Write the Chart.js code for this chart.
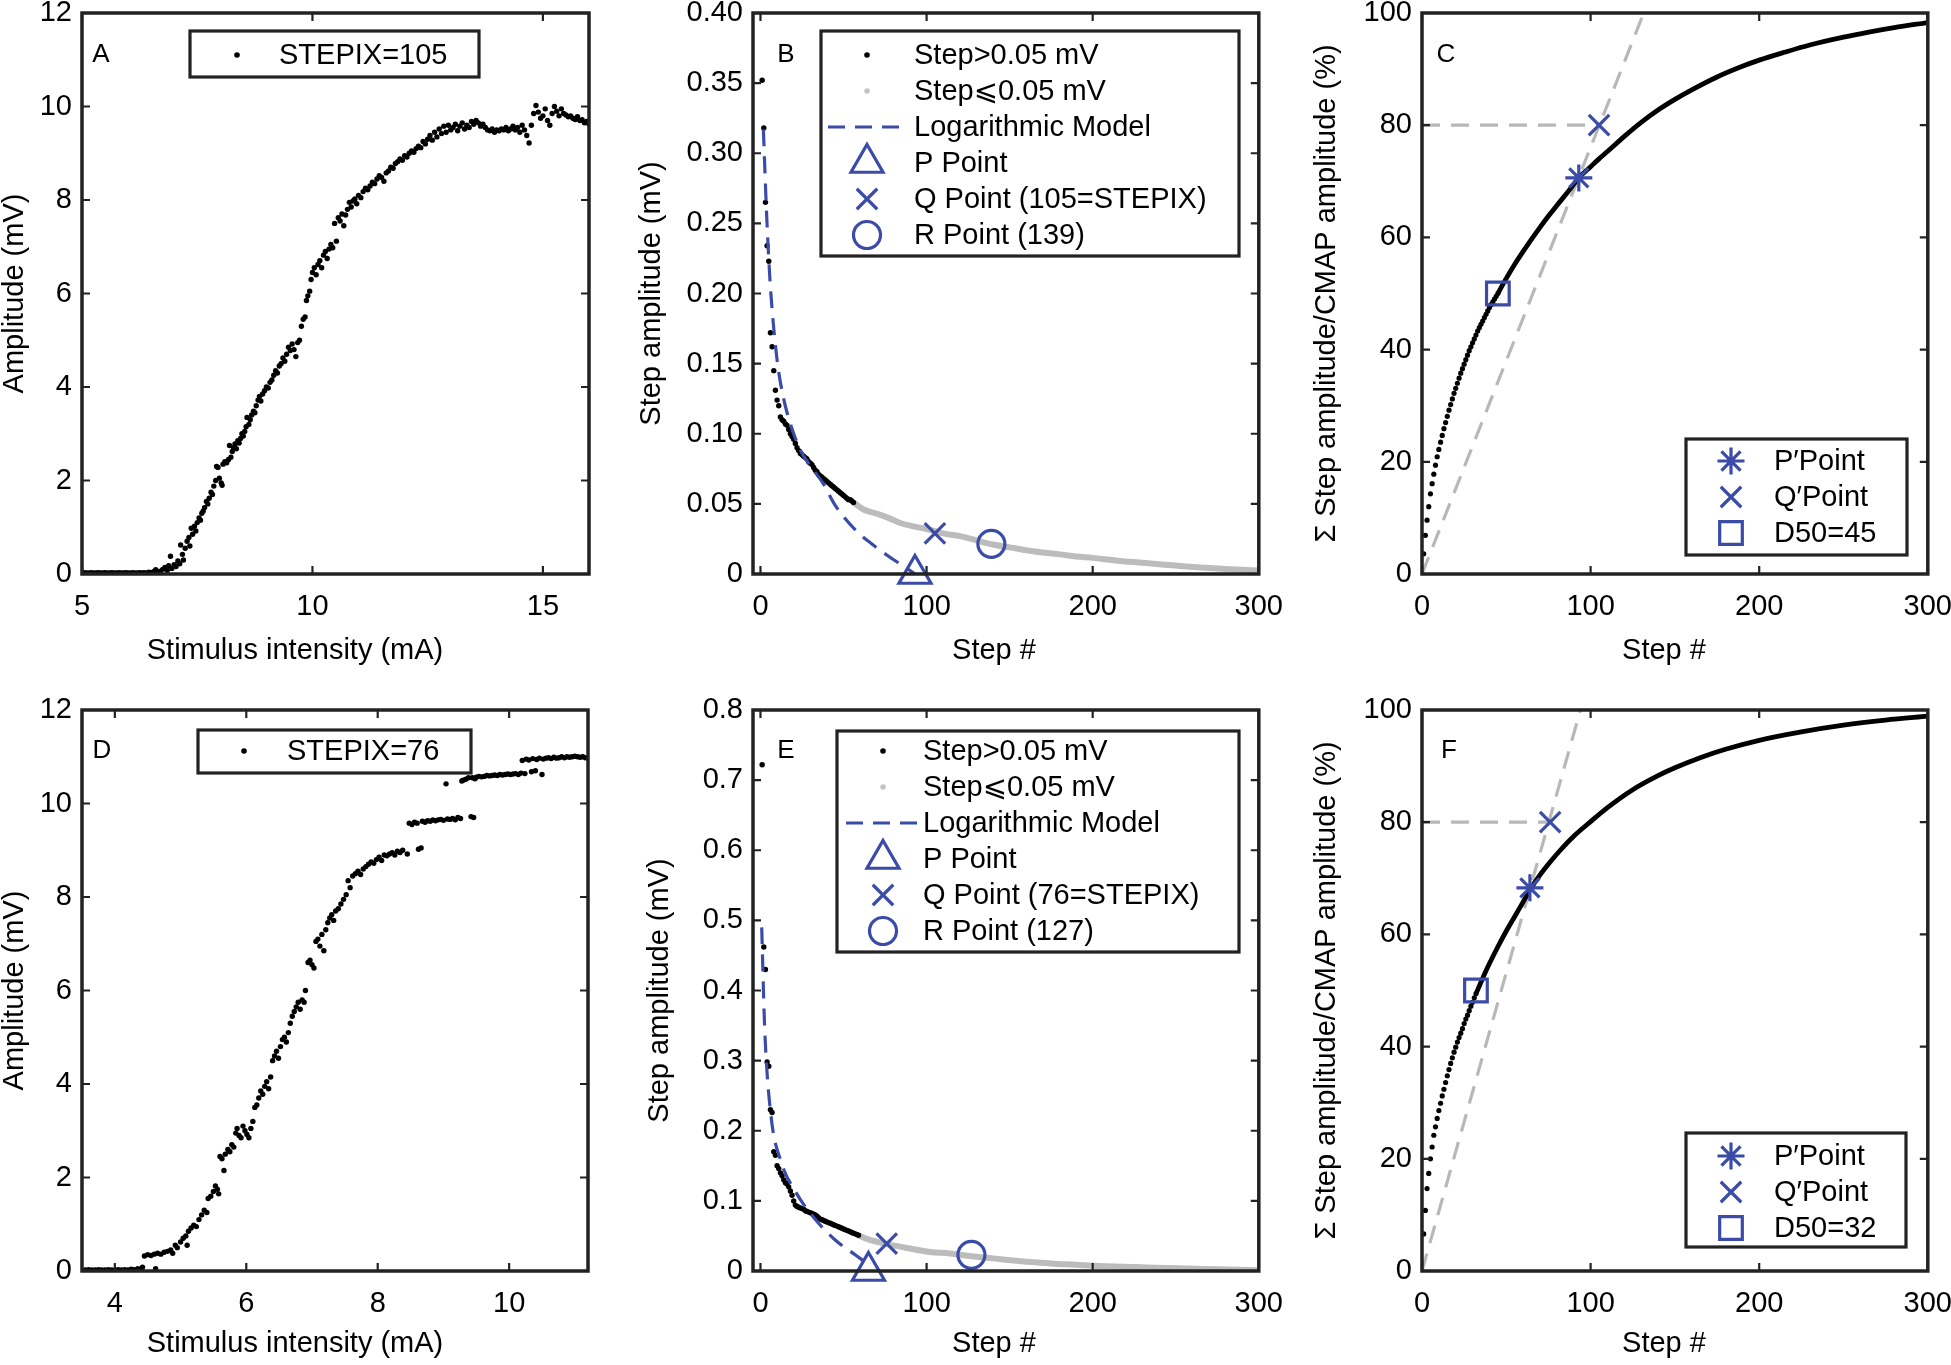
<!DOCTYPE html>
<html><head><meta charset="utf-8">
<script src="https://cdn.jsdelivr.net/npm/chart.js@4.4.1/dist/chart.umd.min.js"></script>
<style>
html,body{margin:0;padding:0;background:#fff;width:1951px;height:1365px;overflow:hidden;position:relative}
canvas{position:absolute}
</style></head><body>
<script>
// ---------------- DATA ----------------
// Panel A: stimulus intensity (mA) vs amplitude (mV)
const A_points = [[5.00,0.02],[5.05,0.03],[5.10,0.02],[5.15,0.02],[5.20,0.03],[5.25,0.02],[5.30,0.02],[5.35,0.03],[5.40,0.02],[5.45,0.02],[5.50,0.03],[5.55,0.02],[5.60,0.02],[5.65,0.03],[5.70,0.02],[5.75,0.02],[5.80,0.03],[5.85,0.02],[5.90,0.02],[5.95,0.03],[6.00,0.02],[6.05,0.02],[6.10,0.03],[6.15,0.02],[6.20,0.02],[6.25,0.03],[6.30,0.02],[6.35,0.03],[6.40,0.02],[6.45,0.04],[6.50,0.03],
[6.55,0.05],[6.60,0.09],[6.65,0.03],[6.70,0.06],[6.75,0.10],[6.80,0.14],[6.85,0.08],[6.88,0.18],[6.92,0.38],[6.95,0.12],[7.00,0.20],[7.04,0.16],[7.08,0.28],[7.12,0.22],[7.14,0.62],[7.18,0.42],[7.20,0.30],[7.24,0.55],[7.28,0.70],[7.32,0.78],[7.34,0.60],[7.37,0.98],[7.40,0.85],[7.44,1.02],[7.47,0.92],[7.50,1.10],[7.54,1.20],[7.57,1.15],[7.60,1.30],[7.63,1.35],[7.66,1.42],[7.70,1.55],[7.73,1.50],[7.76,1.62],[7.80,1.75],[7.83,1.70],[7.86,1.88],[7.90,2.00],[7.92,2.30],[7.95,2.28],[7.98,2.05],[8.02,1.95],[8.04,1.90],[8.06,2.35],[8.10,2.40],[8.14,2.38],[8.18,2.45],[8.20,2.75],[8.23,2.50],[8.26,2.62],[8.29,2.70],[8.32,2.78],[8.35,2.68],[8.38,2.85],[8.41,2.80],[8.44,2.90],[8.47,3.00],[8.50,2.95],[8.53,3.05],[8.56,3.15],[8.58,3.35],[8.62,3.20],[8.65,3.30],[8.68,3.40],[8.72,3.48],[8.75,3.45],[8.78,3.60],[8.82,3.72],[8.85,3.80],[8.88,3.70],[8.92,3.85],[8.96,3.92],[9.00,4.00],[9.04,3.98],[9.08,4.10],[9.12,4.15],[9.16,4.25],[9.20,4.35],[9.24,4.30],[9.28,4.45],[9.32,4.50],[9.36,4.62],[9.40,4.55],[9.44,4.70],[9.48,4.85],[9.52,4.78],[9.56,4.92],[9.60,4.80],[9.64,4.65],[9.68,4.95],[9.72,5.00],[9.76,5.30],[9.80,5.45],[9.84,5.50],[9.87,5.85],[9.90,5.95],[9.94,6.05],[9.97,6.30],[10.00,6.45],[10.04,6.55],[10.08,6.40],[10.12,6.62],[10.16,6.70],[10.20,6.55],[10.24,6.82],[10.28,6.90],[10.32,6.75],[10.36,6.95],[10.40,7.05],[10.44,6.98],[10.48,7.50],[10.52,7.12],[10.56,7.62],[10.60,7.55],[10.64,7.70],[10.68,7.45],[10.72,7.68],[10.76,7.80],[10.80,7.95],[10.84,7.85],[10.88,7.98],[10.92,8.02],[10.96,7.92],[11.00,8.10],[11.05,8.05],[11.10,8.18],[11.15,8.25],[11.20,8.22],[11.25,8.30],[11.30,8.38],[11.35,8.35],[11.40,8.45],[11.45,8.52],[11.50,8.48],[11.55,8.40],[11.60,8.58],[11.65,8.62],[11.70,8.70],[11.75,8.68],[11.80,8.78],[11.85,8.82],[11.90,8.88],[11.95,8.85],[12.00,8.95],[12.05,8.92],[12.10,9.00],[12.15,9.05],[12.20,9.02],[12.25,9.10],[12.30,9.15],[12.35,9.12],[12.40,9.25],[12.45,9.20],[12.50,9.30],[12.55,9.38],[12.60,9.28],[12.65,9.45],[12.70,9.35],[12.75,9.52],[12.80,9.42],[12.85,9.58],[12.90,9.45],[12.95,9.60],[13.00,9.50],[13.05,9.55],[13.10,9.62],[13.15,9.48],[13.20,9.58],[13.25,9.65],[13.30,9.52],[13.35,9.60],[13.40,9.55],[13.45,9.68],[13.50,9.62],[13.55,9.70],[13.60,9.65],[13.65,9.58],[13.70,9.62],[13.75,9.55],[13.80,9.50],[13.85,9.48],[13.90,9.52],[13.95,9.45],[14.00,9.50],[14.05,9.48],[14.10,9.52],[14.15,9.50],[14.20,9.55],[14.25,9.48],[14.30,9.52],[14.35,9.58],[14.40,9.50],[14.45,9.55],[14.50,9.45],[14.55,9.60],[14.60,9.50],[14.65,9.38],[14.70,9.22],[14.75,9.60],[14.80,9.85],[14.85,10.02],[14.90,9.88],[14.95,9.75],[15.00,9.80],[15.05,9.95],[15.10,9.70],[15.15,9.60],[15.20,9.85],[15.25,10.00],[15.30,9.90],[15.35,9.80],[15.40,9.95],[15.45,9.85],[15.50,9.82],[15.55,9.78],[15.60,9.80],[15.65,9.75],[15.70,9.72],[15.75,9.78],[15.80,9.70],[15.85,9.72],[15.90,9.65],[15.95,9.68],[16.00,9.62]];

// Panel D
const D_points = [[3.50,0.02],[3.55,0.02],[3.60,0.03],[3.65,0.02],[3.70,0.02],[3.75,0.03],[3.80,0.02],[3.85,0.02],[3.90,0.03],[3.95,0.02],[4.00,0.02],[4.05,0.03],[4.10,0.02],[4.15,0.03],[4.20,0.02],[4.25,0.04],[4.30,0.03],[4.35,0.05],[4.40,0.04],[4.42,0.08],
[4.45,0.32],[4.50,0.35],[4.55,0.33],[4.60,0.36],[4.62,0.05],[4.65,0.38],[4.70,0.36],[4.75,0.40],[4.80,0.42],[4.85,0.45],[4.88,0.38],[4.92,0.55],[4.95,0.50],[5.00,0.62],[5.04,0.70],[5.08,0.75],[5.10,0.55],[5.12,0.85],[5.16,0.92],[5.20,0.98],[5.24,0.95],[5.28,1.10],[5.32,1.20],[5.36,1.30],[5.40,1.25],[5.42,1.55],[5.46,1.60],[5.50,1.70],[5.53,1.82],[5.56,1.75],[5.58,1.65],[5.60,2.45],[5.63,2.40],[5.66,2.15],[5.68,2.50],[5.72,2.60],[5.75,2.55],[5.78,2.70],[5.81,2.65],[5.84,2.95],[5.86,3.05],[5.89,2.90],[5.92,2.85],[5.95,3.10],[5.98,3.00],[6.01,2.92],[6.04,2.85],[6.07,3.05],[6.10,3.20],[6.13,3.50],[6.16,3.55],[6.19,3.70],[6.22,3.85],[6.25,3.78],[6.28,3.95],[6.31,4.05],[6.34,3.90],[6.37,4.15],[6.40,4.50],[6.43,4.60],[6.46,4.70],[6.49,4.55],[6.52,4.80],[6.55,4.95],[6.58,5.00],[6.61,4.90],[6.64,5.10],[6.67,5.30],[6.70,5.45],[6.73,5.55],[6.76,5.65],[6.79,5.75],[6.82,5.60],[6.85,5.80],[6.88,5.75],[6.90,6.00],[6.94,6.60],[6.97,6.65],[7.00,6.55],[7.03,6.48],[7.06,7.05],[7.09,7.10],[7.12,6.95],[7.15,7.20],[7.18,6.85],[7.21,7.30],[7.24,7.45],[7.27,7.55],[7.30,7.62],[7.33,7.50],[7.36,7.70],[7.40,7.75],[7.44,7.85],[7.48,7.95],[7.52,8.05],[7.55,8.35],[7.58,8.20],[7.62,8.45],[7.66,8.50],[7.70,8.55],[7.74,8.48],[7.78,8.60],[7.82,8.65],[7.86,8.70],[7.90,8.75],[7.94,8.72],[7.98,8.80],[8.02,8.85],[8.06,8.78],[8.10,8.90],[8.14,8.88],[8.18,8.92],[8.22,8.95],[8.26,8.90],[8.30,8.98],[8.34,8.95],[8.38,9.00],[8.45,8.92],[8.48,9.58],[8.52,9.55],[8.56,9.60],[8.60,9.58],[8.62,9.02],[8.66,9.05],[8.68,9.62],[8.72,9.60],[8.76,9.63],[8.80,9.62],[8.84,9.65],[8.88,9.63],[8.92,9.65],[8.96,9.66],[9.00,9.64],[9.04,10.42],[9.06,9.67],[9.10,9.66],[9.14,9.68],[9.18,9.65],[9.22,9.70],[9.26,9.68],[9.28,10.48],[9.30,10.50],[9.34,10.52],[9.38,10.55],[9.42,9.72],[9.46,9.70],[9.44,10.55],[9.48,10.53],[9.50,10.56],[9.54,10.58],[9.58,10.57],[9.62,10.58],[9.66,10.60],[9.70,10.59],[9.74,10.60],[9.78,10.61],[9.82,10.60],[9.86,10.62],[9.90,10.61],[9.94,10.62],[9.98,10.63],[10.02,10.62],[10.06,10.63],[10.10,10.64],[10.14,10.62],[10.18,10.65],[10.20,10.92],[10.24,10.64],[10.26,10.95],[10.30,10.93],[10.34,10.68],[10.36,10.96],[10.40,10.70],[10.42,10.94],[10.46,10.97],[10.50,10.62],[10.52,10.95],[10.56,10.97],[10.60,10.98],[10.64,10.96],[10.68,10.99],[10.72,10.97],[10.76,10.98],[10.80,11.00],[10.84,10.98],[10.88,11.00],[10.92,10.99],[10.96,11.00],[11.00,11.01],[11.04,11.00],[11.08,10.99],[11.12,11.00],[11.16,10.98]];

// Panel B
const B_steps_hi = [1,2,3,4,5,6,7,8,9,10,11,12,13,14,15,16,17,18,19,20,21,22,23,24,25,26,27,28,29,30,31,32,33,34,35,36,37,38,39,40,41,42,43,44,45,46,47,48,49,50,51,52,53,54,55,56];
const B_amp_hi = [0.352,0.318,0.265,0.234,0.223,0.172,0.162,0.145,0.131,0.124,0.120,0.112,0.110,0.109,0.107,0.106,0.103,0.100,0.098,0.096,0.093,0.090,0.088,0.086,0.085,0.084,0.083,0.082,0.080,0.079,0.078,0.076,0.074,0.073,0.071,0.070,0.069,0.068,0.067,0.066,0.065,0.064,0.063,0.062,0.061,0.060,0.059,0.058,0.057,0.056,0.055,0.054,0.053,0.053,0.052,0.051];
const B_steps_lo = [56,62,70,77,85,92,100,110,120,130,140,150,165,180,190,200,215,230,240,250,265,280,290,300];
const B_amp_lo = [0.051,0.046,0.043,0.040,0.036,0.034,0.032,0.029,0.027,0.024,0.021,0.019,0.016,0.014,0.0125,0.0115,0.0095,0.008,0.007,0.006,0.0046,0.0035,0.003,0.0025];
const B_model_x = [1.75,3.75,5.75,8,10.5,13.75,17.5,23.75,30,37.5,45,57.5,67.5,77.5,87.5,93];
const B_model_y = [0.317,0.255,0.209,0.175,0.148,0.126,0.109,0.089,0.077,0.065,0.049,0.031,0.021,0.0123,0.0046,0];
const B_P = [93, 0], B_Q = [105, 0.029], B_R = [139, 0.0215];

// Panel E
const E_steps_hi = [1,2,3,4,5,6,7,8,9,10,11,12,13,14,15,16,17,18,19,20,21,22,23,24,25,26,27,28,29,30,31,32,33,34,35,36,37,38,39,40,41,42,43,44,45,46,47,48,49,50,51,52,53,54,55,56,57,58,59];
const E_amp_hi = [0.722,0.462,0.430,0.298,0.292,0.230,0.226,0.170,0.165,0.150,0.146,0.140,0.136,0.130,0.126,0.124,0.120,0.114,0.108,0.100,0.094,0.092,0.091,0.090,0.089,0.088,0.086,0.085,0.084,0.083,0.082,0.081,0.080,0.078,0.076,0.074,0.073,0.072,0.071,0.070,0.069,0.068,0.067,0.066,0.065,0.064,0.063,0.062,0.061,0.060,0.059,0.058,0.057,0.056,0.055,0.054,0.053,0.052,0.051];
const E_steps_lo = [59,65,77,90,102,114,127,140,152,165,177,190,201,226,251,276,300];
const E_amp_lo = [0.051,0.045,0.038,0.032,0.027,0.025,0.021,0.018,0.015,0.0125,0.0105,0.009,0.0075,0.0056,0.0038,0.0025,0.0012];
const E_model_x = [0.75,2.5,6.2,12.4,21.1,32.3,44.8,57.2,66];
const E_model_y = [0.49,0.348,0.224,0.156,0.113,0.0755,0.0446,0.0229,0.0074];
const E_P = [65, 0], E_Q = [76, 0.039], E_R = [127, 0.023];

// Panel C (cumulative %)
const C_dot_steps = [1,2,3,4,5,6,7,8,9,10,11,12,13,14,15,16,17,18,19,20,21,22,23,24,25,26,27,28,29,30,31,32,33,34,35,36,37,38,39,40,41,42,43,44,45];
const C_dot_pct = [3.6,6.9,9.6,12.0,14.3,16.1,17.8,19.4,20.9,22.2,23.5,24.7,25.9,27.0,28.1,29.2,30.2,31.2,32.2,33.1,34.0,34.9,35.8,36.6,37.4,38.2,39.0,39.8,40.5,41.2,41.9,42.6,43.3,43.9,44.5,45.1,45.7,46.3,46.9,47.5,48.0,48.5,49.0,49.5,50.0];
const C_line_steps = [45,50,55,60,65,70,75,80,86,93,100,105,110,120,130,140,150,160,175,190,200,215,230,250,265,280,300];
const C_line_pct = [50.0,52.7,55.2,57.5,59.7,61.8,63.8,65.7,67.9,70.6,72.6,74.0,75.3,78.0,80.5,82.7,84.6,86.3,88.6,90.5,91.6,93.0,94.3,95.7,96.6,97.4,98.3];
const C_diag = [[0,0],[131.5,100]], C_hline = [[0,80],[105,80]];
const C_Pp = [93, 70.6], C_Qp = [105, 80], C_D50 = [45, 50];

// Panel F
const F_dot_steps = [1,2,3,4,5,6,7,8,9,10,11,12,13,14,15,16,17,18,19,20,21,22,23,24,25,26,27,28,29,30,31,32];
const F_dot_pct = [6.6,10.8,14.7,17.4,20.0,22.1,24.2,25.7,27.2,28.6,29.9,31.2,32.4,33.6,34.8,35.9,37.0,38.0,39.0,39.9,40.8,41.6,42.4,43.2,44.1,44.9,45.6,46.4,47.2,47.9,48.7,49.4];
const F_line_steps = [32,36,40,45,50,55,60,64,70,76,82,90,100,110,125,140,150,165,180,200,225,250,275,300];
const F_line_pct = [49.4,52.2,54.8,57.8,60.6,63.2,65.8,67.9,70.6,72.9,75.0,77.5,80.1,82.6,85.8,88.3,89.7,91.5,93.0,94.6,96.1,97.3,98.2,98.9];
const F_diag = [[0,0],[94,100]], F_hline = [[0,80],[76,80]];
const F_Pp = [64, 68.3], F_Qp = [76, 80], F_D50 = [32, 50];

// Tick values
const ticksA_x = [5,10,15], ticksA_y = [0,2,4,6,8,10,12];
const ticksD_x = [4,6,8,10], ticksD_y = [0,2,4,6,8,10,12];
const ticksStep = [0,100,200,300];
const ticksB_y = [0,0.05,0.10,0.15,0.20,0.25,0.30,0.35,0.40];
const ticksE_y = [0,0.1,0.2,0.3,0.4,0.5,0.6,0.7,0.8];
const ticksPct = [0,20,40,60,80,100];

// ---------------- RENDERING ----------------
const FONT = '"Liberation Sans", Arial, "DejaVu Sans", sans-serif';
const FS = 29;
const INK = '#222222';
const TXT = '#000000';
const BLUE = '#3a4ba8';
const GRAY = '#bcbcbc';
const DGRAY = '#b8b8b8';
const pts = (xs, ys) => xs.map((x, i) => ({x: x, y: ys[i]}));
const pairs = arr => arr.map(p => ({x: p[0], y: p[1]}));
const one = p => [{x: p[0], y: p[1]}];

function dots(data, color, r) {
  return {data, showLine: false, pointRadius: r, pointBackgroundColor: color, pointBorderWidth: 0, pointHoverRadius: r};
}
function line(data, color, w, dash, smooth) {
  return {data, showLine: true, borderColor: color, borderWidth: w, borderDash: dash || [], pointRadius: 0, pointHoverRadius: 0,
    fill: false, cubicInterpolationMode: smooth ? 'monotone' : 'default', tension: 0};
}
function marker(data, style, r) {
  return {data, showLine: false, pointStyle: style, pointRadius: r, pointHoverRadius: r, pointBorderColor: BLUE,
    pointBackgroundColor: 'rgba(0,0,0,0)', pointBorderWidth: 3.2, clip: false};
}

function drawMark(ctx, style, x, y, r, color, lw) {
  ctx.save();
  ctx.strokeStyle = color; ctx.fillStyle = color; ctx.lineWidth = lw; ctx.setLineDash([]);
  ctx.beginPath();
  const d = r * Math.SQRT1_2;
  if (style === 'dot') { ctx.arc(x, y, r, 0, 2 * Math.PI); ctx.fill(); }
  else if (style === 'circle') { ctx.arc(x, y, r, 0, 2 * Math.PI); ctx.stroke(); }
  else if (style === 'triangle') {
    ctx.moveTo(x, y - r);
    ctx.lineTo(x + r * Math.sin(2 * Math.PI / 3), y - r * Math.cos(2 * Math.PI / 3));
    ctx.lineTo(x + r * Math.sin(4 * Math.PI / 3), y - r * Math.cos(4 * Math.PI / 3));
    ctx.closePath(); ctx.stroke();
  }
  else if (style === 'rect') { ctx.rect(x - d, y - d, 2 * d, 2 * d); ctx.stroke(); }
  else if (style === 'crossRot') { ctx.moveTo(x - d, y - d); ctx.lineTo(x + d, y + d); ctx.moveTo(x + d, y - d); ctx.lineTo(x - d, y + d); ctx.stroke(); }
  else if (style === 'star') {
    ctx.moveTo(x - d, y - d); ctx.lineTo(x + d, y + d); ctx.moveTo(x + d, y - d); ctx.lineTo(x - d, y + d);
    ctx.moveTo(x, y - r); ctx.lineTo(x, y + r); ctx.moveTo(x - r, y); ctx.lineTo(x + r, y); ctx.stroke();
  }
  ctx.restore();
}

function drawLegend(ctx, lg, cl, ct) {
  const [x1, y1, x2, y2] = lg.box;
  ctx.save();
  ctx.fillStyle = '#fff';
  ctx.fillRect(x1 - cl, y1 - ct, x2 - x1, y2 - y1);
  ctx.strokeStyle = INK; ctx.lineWidth = 3.2; ctx.setLineDash([]);
  ctx.strokeRect(x1 - cl, y1 - ct, x2 - x1, y2 - y1);
  ctx.font = FS + 'px ' + FONT; ctx.textAlign = 'left'; ctx.textBaseline = 'middle';
  lg.items.forEach((it, i) => {
    const y = lg.rows[i] - ct, sx = lg.symX - cl;
    if (it.kind === 'dash') {
      ctx.save(); ctx.strokeStyle = it.color; ctx.lineWidth = 3.2; ctx.setLineDash([17, 10]);
      ctx.beginPath(); ctx.moveTo(lg.dash[0] - cl, y); ctx.lineTo(lg.dash[1] - cl, y); ctx.stroke(); ctx.restore();
    } else {
      drawMark(ctx, it.kind, sx, y, it.r, it.color, 3.2);
    }
    ctx.fillStyle = TXT;
    ctx.fillText(it.text, lg.textX - cl, y + 1);
  });
  ctx.restore();
}

function framePlugin(o, cl, ct) {
  return {
    id: 'frame' + o.letter,
    afterDraw(chart) {
      const ctx = chart.ctx, a = chart.chartArea, sx = chart.scales.x, sy = chart.scales.y;
      ctx.save();
      ctx.strokeStyle = INK; ctx.lineWidth = 2.2; ctx.setLineDash([]);
      ctx.beginPath();
      o.xTicks.forEach(v => { const p = sx.getPixelForValue(v); ctx.moveTo(p, a.bottom); ctx.lineTo(p, a.bottom - 8); ctx.moveTo(p, a.top); ctx.lineTo(p, a.top + 8); });
      o.yTicks.forEach(v => { const p = sy.getPixelForValue(v); ctx.moveTo(a.left, p); ctx.lineTo(a.left + 8, p); ctx.moveTo(a.right, p); ctx.lineTo(a.right - 8, p); });
      ctx.stroke();
      ctx.lineWidth = 3.5;
      ctx.strokeRect(a.left, a.top, a.right - a.left, a.bottom - a.top);
      ctx.fillStyle = TXT; ctx.textAlign = 'center'; ctx.textBaseline = 'middle';
      ctx.font = FS + 'px ' + FONT;
      ctx.fillText(o.xTitle, o.xTitleX - cl, o.xTitleY - ct);
      ctx.font = '26px ' + FONT;
      ctx.fillText(o.letter, o.letterPos[0] - cl, o.letterPos[1] - ct);
      if (o.legend) drawLegend(ctx, o.legend, cl, ct);
      ctx.restore();
    }
  };
}

function makePanel(o) {
  const cl = o.yTitleX - 20, ct = o.t - 40;
  const cw = o.r + 40 - cl, ch = o.xTitleY + 22 - ct;
  const yW = o.l - cl, xH = o.xTitleY + 22 - o.b;
  const cv = document.createElement('canvas');
  cv.width = cw; cv.height = ch;
  cv.style.left = cl + 'px'; cv.style.top = ct + 'px';
  cv.style.width = cw + 'px'; cv.style.height = ch + 'px';
  document.body.appendChild(cv);
  const f = {family: FONT, size: FS};
  new Chart(cv.getContext('2d'), {
    type: 'scatter',
    data: {datasets: o.datasets},
    options: {
      responsive: false, maintainAspectRatio: false, animation: false, devicePixelRatio: 1, events: [],
      layout: {padding: {left: 0, top: 40, right: 40, bottom: 0}},
      plugins: {legend: {display: false}, tooltip: {enabled: false}},
      scales: {
        x: {
          type: 'linear', position: 'bottom', min: o.xMin, max: o.xMax,
          afterBuildTicks: s => { s.ticks = o.xTicks.map(v => ({value: v})); },
          afterFit: s => { s.height = xH; },
          grid: {display: false, drawTicks: false, tickLength: 0}, border: {display: false},
          ticks: {font: f, color: TXT, padding: 16, maxRotation: 0, minRotation: 0, autoSkip: false, callback: o.xFmt || (v => String(v))},
          title: {display: false}
        },
        y: {
          type: 'linear', position: 'left', min: o.yMin, max: o.yMax,
          afterBuildTicks: s => { s.ticks = o.yTicks.map(v => ({value: v})); },
          afterFit: s => { s.width = yW; },
          grid: {display: false, drawTicks: false, tickLength: 0}, border: {display: false},
          ticks: {font: f, color: TXT, padding: 10, autoSkip: false, callback: o.yFmt || (v => String(v))},
          title: {display: true, text: o.yTitle, font: f, color: TXT, padding: {top: 20 - FS * 0.6, bottom: 0}}
        }
      }
    },
    plugins: [framePlugin(o, cl, ct)]
  });
}

const fmt2 = v => v === 0 ? '0' : v.toFixed(2);
const fmt1 = v => v === 0 ? '0' : v.toFixed(1);

function stepLegend(box, rows, symX, dash, textX, qText, rText) {
  return {box, rows, symX, dash, textX, items: [
    {kind: 'dot', r: 2.8, color: '#000', text: 'Step>0.05 mV'},
    {kind: 'dot', r: 2.8, color: '#c4c4c4', text: 'Step\u2A7D0.05 mV'},
    {kind: 'dash', color: BLUE, text: 'Logarithmic Model'},
    {kind: 'triangle', r: 18.5, color: BLUE, text: 'P Point'},
    {kind: 'crossRot', r: 14.5, color: BLUE, text: qText},
    {kind: 'circle', r: 13.5, color: BLUE, text: rText}
  ]};
}
function cumLegend(box, rows, d50) {
  return {box, rows, symX: 1731, textX: 1774, items: [
    {kind: 'star', r: 13.5, color: BLUE, text: 'P\u2032Point'},
    {kind: 'crossRot', r: 14.5, color: BLUE, text: 'Q\u2032Point'},
    {kind: 'rect', r: 16, color: BLUE, text: d50}
  ]};
}

// A
makePanel({letter: 'A', letterPos: [101, 55], l: 82, t: 13, r: 589, b: 574, yTitleX: 15, xTitleX: 295, xTitleY: 651,
  xMin: 5, xMax: 16, xTicks: ticksA_x, yMin: 0, yMax: 12, yTicks: ticksA_y,
  xTitle: 'Stimulus intensity (mA)', yTitle: 'Amplitude (mV)',
  datasets: [dots(pairs(A_points), '#000', 2.7)],
  legend: {box: [190, 31, 479, 77], rows: [55], symX: 237, textX: 279, items: [{kind: 'dot', r: 2.8, color: '#000', text: 'STEPIX=105'}]}
});
// B
makePanel({letter: 'B', letterPos: [786, 55], l: 753, t: 13, r: 1259, b: 574, yTitleX: 652, xTitleX: 994, xTitleY: 651,
  xMin: -4.5, xMax: 300, xTicks: ticksStep, yMin: 0, yMax: 0.4, yTicks: ticksB_y, yFmt: fmt2,
  xTitle: 'Step #', yTitle: 'Step amplitude (mV)',
  datasets: [
    marker(one(B_P), 'triangle', 18.5), marker(one(B_Q), 'crossRot', 14.5), marker(one(B_R), 'circle', 13.5),
    line(pts(B_model_x, B_model_y), BLUE, 3.2, [17, 10], true),
    dots(pts(B_steps_hi, B_amp_hi), '#000', 2.7),
    line(pts(B_steps_lo, B_amp_lo), GRAY, 6, null, true)
  ],
  legend: stepLegend([821, 31, 1239, 256], [55, 91, 127, 163, 199, 235], 867, [828, 905], 914, 'Q Point (105=STEPIX)', 'R Point (139)')
});
// C
makePanel({letter: 'C', letterPos: [1446, 55], l: 1422, t: 13, r: 1928, b: 574, yTitleX: 1327, xTitleX: 1664, xTitleY: 651,
  xMin: 0, xMax: 300, xTicks: ticksStep, yMin: 0, yMax: 100, yTicks: ticksPct,
  xTitle: 'Step #', yTitle: '\u03A3 Step amplitude/CMAP amplitude (%)',
  datasets: [
    marker(one(C_Pp), 'star', 13.5), marker(one(C_Qp), 'crossRot', 14.5), marker(one(C_D50), 'rect', 16),
    line(pts(C_line_steps, C_line_pct), '#000', 4.8, null, true),
    dots(pts(C_dot_steps, C_dot_pct), '#000', 2.6),
    line(pairs(C_diag), DGRAY, 3.2, [18, 11], false),
    line(pairs(C_hline), DGRAY, 3.2, [18, 11], false)
  ],
  legend: cumLegend([1686, 439, 1907, 555], [461, 497, 533], 'D50=45')
});
// D
makePanel({letter: 'D', letterPos: [102, 751], l: 82, t: 710, r: 588, b: 1271, yTitleX: 15, xTitleX: 295, xTitleY: 1344,
  xMin: 3.5, xMax: 11.2, xTicks: ticksD_x, yMin: 0, yMax: 12, yTicks: ticksD_y,
  xTitle: 'Stimulus intensity (mA)', yTitle: 'Amplitude (mV)',
  datasets: [dots(pairs(D_points), '#000', 2.7)],
  legend: {box: [198, 730, 471, 773], rows: [751], symX: 244, textX: 287, items: [{kind: 'dot', r: 2.8, color: '#000', text: 'STEPIX=76'}]}
});
// E
makePanel({letter: 'E', letterPos: [786, 751], l: 753, t: 710, r: 1259, b: 1271, yTitleX: 660, xTitleX: 994, xTitleY: 1344,
  xMin: -4.5, xMax: 300, xTicks: ticksStep, yMin: 0, yMax: 0.8, yTicks: ticksE_y, yFmt: fmt1,
  xTitle: 'Step #', yTitle: 'Step amplitude (mV)',
  datasets: [
    marker(one(E_P), 'triangle', 18.5), marker(one(E_Q), 'crossRot', 14.5), marker(one(E_R), 'circle', 13.5),
    line(pts(E_model_x, E_model_y), BLUE, 3.2, [17, 10], true),
    dots(pts(E_steps_hi, E_amp_hi), '#000', 2.7),
    line(pts(E_steps_lo, E_amp_lo), GRAY, 6, null, true)
  ],
  legend: stepLegend([837, 731, 1239, 952], [751, 787, 823, 859, 895, 931], 883, [846, 921], 923, 'Q Point (76=STEPIX)', 'R Point (127)')
});
// F
makePanel({letter: 'F', letterPos: [1449, 751], l: 1422, t: 710, r: 1928, b: 1271, yTitleX: 1327, xTitleX: 1664, xTitleY: 1344,
  xMin: 0, xMax: 300, xTicks: ticksStep, yMin: 0, yMax: 100, yTicks: ticksPct,
  xTitle: 'Step #', yTitle: '\u03A3 Step amplitude/CMAP amplitude (%)',
  datasets: [
    marker(one(F_Pp), 'star', 13.5), marker(one(F_Qp), 'crossRot', 14.5), marker(one(F_D50), 'rect', 16),
    line(pts(F_line_steps, F_line_pct), '#000', 4.8, null, true),
    dots(pts(F_dot_steps, F_dot_pct), '#000', 2.6),
    line(pairs(F_diag), DGRAY, 3.2, [18, 11], false),
    line(pairs(F_hline), DGRAY, 3.2, [18, 11], false)
  ],
  legend: cumLegend([1686, 1133, 1906, 1247], [1156, 1192, 1228], 'D50=32')
});
</script>
</body></html>
